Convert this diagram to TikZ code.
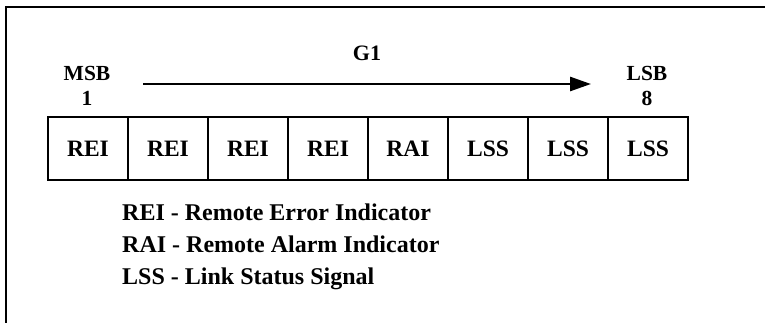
\documentclass[tikz,border=0pt]{standalone}
\usepackage{fontspec}
\setmainfont{Liberation Serif}
\usetikzlibrary{arrows.meta}
\begin{document}
\begin{tikzpicture}[x=1pt,y=-1pt,
  cell/.style={draw,line width=2pt,minimum width=80pt,minimum height=63pt,inner sep=0pt,anchor=north west,
    font=\fontsize{23.5}{23.5}\selectfont\bfseries},
  toplabel/.style={anchor=base,inner sep=0pt,font=\fontsize{21.5}{21.5}\selectfont\bfseries},
  legend/.style={anchor=base west,inner sep=0pt,font=\fontsize{24}{24}\selectfont\bfseries},
  frame/.style={line width=2pt}]
\useasboundingbox (0,0) rectangle (765,322);
\coordinate (ftr) at (766,7);
\coordinate (ftl) at (6,7);
\coordinate (fbl) at (6,323);
\draw[frame] (ftr) -- (ftl) -- (fbl);
\node[cell] (c1) at (47,116) {REI};
\node[cell] (c2) at (127,116) {REI};
\node[cell] (c3) at (207,116) {REI};
\node[cell] (c4) at (287,116) {REI};
\node[cell] (c5) at (367,116) {RAI};
\node[cell] (c6) at (447,116) {LSS};
\node[cell] (c7) at (527,116) {LSS};
\node[cell] (c8) at (607,116) {LSS};
\node[toplabel] (msb) at (87,80) {MSB};
\node[toplabel] (one) at (87,105) {1};
\node[toplabel] (lsb) at (647,80) {LSB};
\node[toplabel] (eight) at (647,105) {8};
\node[toplabel,font=\fontsize{22}{22}\selectfont\bfseries] (g1) at (367,60.5) {G1};
\coordinate (as) at (143,84);
\coordinate (ae) at (591,84);
\draw[line width=2.7pt,-{Triangle[length=21pt,width=14pt]}] (as) -- (ae);
\node[legend] (l1) at (122,220) {REI - Remote Error Indicator};
\node[legend] (l2) at (122,252) {RAI - Remote Alarm Indicator};
\node[legend] (l3) at (122,284) {LSS - Link Status Signal};
\end{tikzpicture}
\end{document}
